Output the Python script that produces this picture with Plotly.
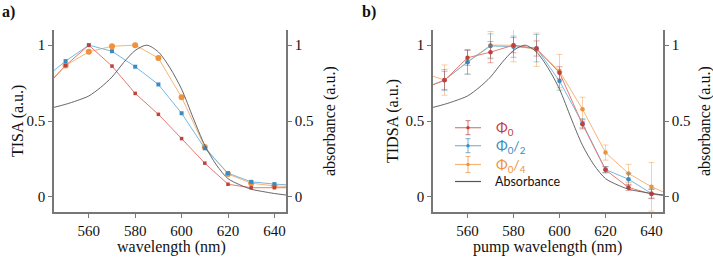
import plotly.graph_objects as go

# ---------------- data ----------------
wl = [540, 550, 560, 570, 580, 590, 600, 610, 620, 630, 640, 650]

# panel a (TISA)
tisa_phi0 = [0.70, 0.866, 1.0, 0.862, 0.682, 0.544, 0.384, 0.222, 0.083, 0.060, 0.060, 0.060]
tisa_phi0_2 = [0.77, 0.895, 1.0, 0.960, 0.858, 0.741, 0.551, 0.320, 0.156, 0.099, 0.084, 0.075]
tisa_phi0_4 = [0.71, 0.866, 0.956, 0.993, 1.0, 0.915, 0.656, 0.329, 0.150, 0.090, 0.072, 0.065]

# panel b (TIDSA)
tidsa_phi0 = [0.71, 0.768, 0.917, 0.954, 1.0, 0.978, 0.818, 0.478, 0.178, 0.062, 0.018, 0.0]
tidsa_phi0_err = [0, 0.06, 0.05, 0.07, 0.05, 0.05, 0.04, 0.03, 0.02, 0.02, 0.03, 0]
tidsa_phi0_2 = [0.71, 0.770, 0.888, 0.995, 0.990, 0.980, 0.763, 0.485, 0.180, 0.116, 0.022, 0.0]
tidsa_phi0_2_err = [0, 0.07, 0.08, 0.08, 0.07, 0.09, 0.06, 0.03, 0.02, 0.04, 0.03, 0]
tidsa_phi0_4 = [0.82, 0.770, 0.890, 1.0, 1.0, 0.970, 0.829, 0.577, 0.292, 0.154, 0.066, 0.0]
tidsa_phi0_4_err = [0, 0.10, 0.08, 0.09, 0.11, 0.11, 0.11, 0.08, 0.05, 0.06, 0.16, 0]

# absorbance spectrum
abs_wl = [545, 550, 555, 560, 565, 570, 575, 580, 585, 590, 595, 600, 605, 610,
          615, 620, 625, 630, 635, 640, 645]
absorb = [0.59, 0.61, 0.635, 0.665, 0.72, 0.79, 0.885, 0.965, 1.0, 0.955, 0.85,
          0.71, 0.52, 0.34, 0.21, 0.12, 0.08, 0.05, 0.035, 0.022, 0.012]

yticks = [0, 0.5, 1]
ytick_text = ["0", "0.5", "1"]
xticks = [560, 580, 600, 620, 640]

# ---------------- styles ----------------
RED, RED_M = "#e57a74", "#c0403a"
BLUE, BLUE_M = "#78b9dd", "#3a8cc0"
ORANGE, ORANGE_M = "#f7b575", "#f0923a"
GRAY = "#555555"
AXC = "#777777"
SERIF = "Liberation Serif"
SANS = "Lato"

W, H = 713, 258
def px(x):
    return x / W
def py(y):
    return 1 - y / H

fig = go.Figure()

# panel a
for ys, lc, mc, sym, sz in [(tisa_phi0_4, ORANGE, ORANGE_M, "circle", 6),
                            (tisa_phi0_2, BLUE, BLUE_M, "square", 4),
                            (tisa_phi0, RED, RED_M, "square", 3.5)]:
    fig.add_trace(go.Scatter(x=wl, y=ys, mode="lines+markers", xaxis="x", yaxis="y",
                             line=dict(color=lc, width=1),
                             marker=dict(color=mc, size=sz, symbol=sym), showlegend=False))
fig.add_trace(go.Scatter(x=abs_wl, y=absorb, mode="lines", xaxis="x", yaxis="y3",
                         line=dict(color=GRAY, width=0.9, shape="spline", smoothing=0.8),
                         showlegend=False))

# panel b
def rgba(h, a):
    h = h.lstrip("#")
    return "rgba(%d,%d,%d,%.2f)" % (int(h[0:2], 16), int(h[2:4], 16), int(h[4:6], 16), a)

for ys, es, lc, mc in [(tidsa_phi0_4, tidsa_phi0_4_err, ORANGE, ORANGE_M),
                       (tidsa_phi0_2, tidsa_phi0_2_err, BLUE, BLUE_M),
                       (tidsa_phi0, tidsa_phi0_err, RED, RED_M)]:
    fig.add_trace(go.Scatter(x=wl, y=ys, mode="lines+markers", xaxis="x2", yaxis="y2",
                             line=dict(color=lc, width=1),
                             marker=dict(color=mc, size=4.5),
                             error_y=dict(type="data", array=es, color=rgba(mc, 0.45),
                                          thickness=1, width=3),
                             showlegend=False))
fig.add_trace(go.Scatter(x=abs_wl, y=absorb, mode="lines", xaxis="x2", yaxis="y4",
                         line=dict(color=GRAY, width=0.9, shape="spline", smoothing=0.8),
                         showlegend=False))

xa = dict(range=[545, 645], tickvals=xticks, ticks="outside", ticklen=4, tickcolor=AXC,
          showline=True, linecolor=AXC, linewidth=1.5, showgrid=False, zeroline=False,
          tickfont=dict(family=SERIF, size=15, color="#111"))
ya = dict(range=[-0.1, 1.1], tickvals=yticks, ticktext=ytick_text, ticks="outside",
          ticklen=4, tickcolor=AXC, showline=True, linecolor=AXC, linewidth=1.5,
          showgrid=False, zeroline=False, tickfont=dict(family=SERIF, size=15, color="#111"),
          domain=[py(212), py(30)])

fig.update_layout(
    width=W, height=H, margin=dict(l=0, r=0, t=0, b=0),
    paper_bgcolor="white", plot_bgcolor="white",
    xaxis=dict(xa, domain=[px(54), px(286)], anchor="y"),
    xaxis2=dict(xa, domain=[px(433), px(663)], anchor="y2"),
    yaxis=dict(ya, anchor="x"),
    yaxis2=dict(ya, anchor="x2"),
    yaxis3=dict(ya, anchor="x", overlaying="y", side="right"),
    yaxis4=dict(ya, anchor="x2", overlaying="y2", side="right"),
)

ann = []
def text(x, y, t, size=16, family=SERIF, color="#111", angle=0, xanchor="center", bold=False):
    ann.append(dict(x=px(x), y=py(y), xref="paper", yref="paper", text=("<b>%s</b>" % t) if bold else t,
                    showarrow=False, textangle=angle, xanchor=xanchor, yanchor="middle",
                    font=dict(family=family, size=size, color=color)))

text(0, 12, "a)", size=16, xanchor="left", bold=True)
text(360, 12, "b)", size=16, xanchor="left", bold=True)
text(18, 121, "TISA (a.u.)", angle=-90)
text(330, 121, "absorbance (a.u.)", angle=-90)
text(393, 121, "TIDSA (a.u.)", angle=-90)
text(705, 121, "absorbance (a.u.)", angle=-90)
text(171, 247, "wavelength (nm)")
text(547, 247, "pump wavelength (nm)")

# custom legend
shapes = []
leg = [(127.7, RED, RED_M, "Φ<sub>0</sub>", 7),
       (145.7, BLUE, BLUE_M, "Φ<sub>0</sub>/<sub>2</sub>", 7),
       (164.5, ORANGE, ORANGE_M, "Φ<sub>0</sub>/<sub>4</sub>", 8)]
for yy, lc, mc, lab, eh in leg:
    shapes.append(dict(type="line", xref="paper", yref="paper", x0=px(455), x1=px(481),
                       y0=py(yy), y1=py(yy), line=dict(color=lc, width=1.2)))
    shapes.append(dict(type="line", xref="paper", yref="paper", x0=px(468), x1=px(468),
                       y0=py(yy - eh), y1=py(yy + eh), line=dict(color=rgba(mc, 0.7), width=1)))
    for d in (-eh, eh):
        shapes.append(dict(type="line", xref="paper", yref="paper", x0=px(465.5), x1=px(470.5),
                           y0=py(yy + d), y1=py(yy + d), line=dict(color=rgba(mc, 0.7), width=1)))
    shapes.append(dict(type="circle", xref="paper", yref="paper", x0=px(466.3), x1=px(469.7),
                       y0=py(yy + 1.7), y1=py(yy - 1.7), fillcolor=mc, line=dict(width=0)))
    text(494, yy + 0.5, lab, size=14, family=SANS, color=mc, xanchor="left")
shapes.append(dict(type="line", xref="paper", yref="paper", x0=px(455), x1=px(481),
                   y0=py(181.5), y1=py(181.5), line=dict(color=GRAY, width=1.2)))
text(493, 181, "Absorbance", size=12.5, family=SANS, color="#111", xanchor="left")

fig.update_layout(annotations=ann, shapes=shapes)
fig.write_html("out.html")
